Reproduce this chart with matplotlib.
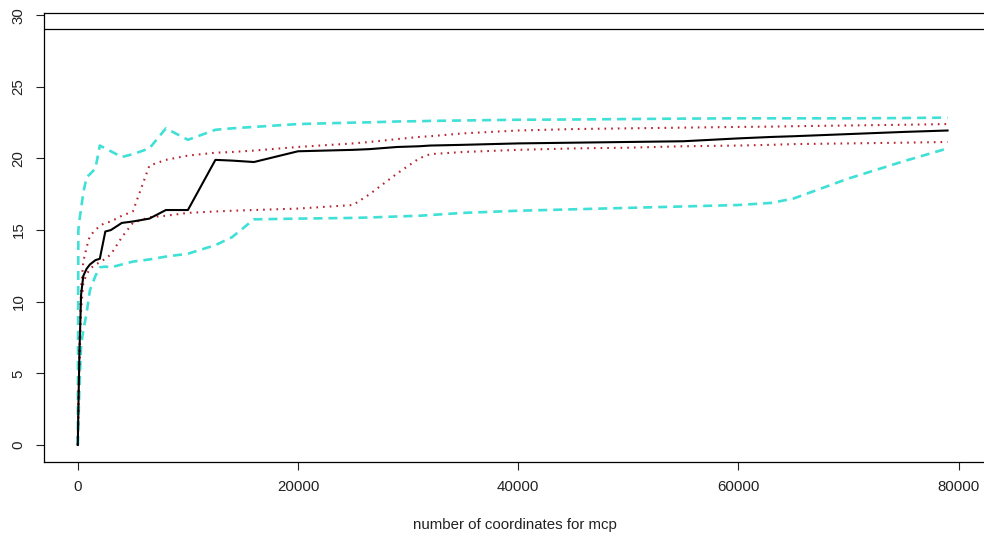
import matplotlib
matplotlib.use("Agg")
import matplotlib.pyplot as plt

plt.rcParams['font.family'] = ['Liberation Sans', 'DejaVu Sans']
plt.rcParams['lines.scale_dashes'] = False

# number of coordinates used for the MCP
n_coords = [0, 50, 150, 300, 500, 800, 1100, 1600, 2000, 2500, 3000, 4000, 5000,
            6500, 8000, 10000, 12500, 14000, 16000, 20000, 25000, 26500, 29000,
            31000, 32000, 35000, 40000, 45000, 50000, 55000, 60000, 63000, 65000,
            70000, 75000, 79000]

mean_area = [0, 2.5, 6.5, 10.5, 11.8, 12.3, 12.6, 12.9, 13.0, 14.9, 15.0, 15.5, 15.6,
             15.8, 16.4, 16.4, 19.9, 19.85, 19.75, 20.5, 20.6, 20.65, 20.8,
             20.85, 20.9, 20.95, 21.05, 21.1, 21.15, 21.2, 21.4, 21.5, 21.55,
             21.7, 21.85, 21.95]

upper_red = [0, 3, 7, 11, 12.8, 13.8, 14.6, 15.0, 15.3, 15.5, 15.6, 16.0, 16.3,
             19.5, 19.9, 20.2, 20.4, 20.45, 20.55, 20.8, 21.05, 21.15, 21.35,
             21.5, 21.55, 21.75, 21.95, 22.05, 22.1, 22.15, 22.2, 22.22, 22.25,
             22.3, 22.35, 22.4]

lower_red = [0, 2, 5.5, 9.5, 11.3, 11.9, 12.3, 12.6, 12.75, 13.0, 13.3, 14.5, 15.5,
             15.9, 16.0, 16.2, 16.3, 16.35, 16.4, 16.5, 16.75, 17.5, 18.95,
             20.0, 20.3, 20.45, 20.6, 20.7, 20.75, 20.85, 20.9, 20.95, 21.0,
             21.05, 21.1, 21.15]

upper_cyan = [0, 15.0, 15.7, 16.5, 17.6, 18.7, 18.9, 19.3, 20.9, 20.7, 20.5, 20.1, 20.3,
              20.7, 22.1, 21.3, 22.0, 22.1, 22.2, 22.4, 22.5, 22.52, 22.58,
              22.6, 22.62, 22.65, 22.7, 22.72, 22.75, 22.78, 22.8, 22.8, 22.8,
              22.8, 22.82, 22.85]

lower_cyan = [0, 1.5, 4.0, 7.0, 8.0, 9.2, 10.8, 11.8, 12.4, 12.45, 12.4, 12.6, 12.8,
              12.95, 13.15, 13.35, 13.95, 14.5, 15.75, 15.8, 15.85, 15.88, 15.95,
              16.0, 16.05, 16.2, 16.35, 16.45, 16.55, 16.65, 16.75, 16.9, 17.2,
              18.6, 19.8, 20.7]

ref_level = 29

x_ticks = [0, 20000, 40000, 60000, 80000]
y_ticks = [0, 5, 10, 15, 20, 25, 30]
x_label = "number of coordinates for mcp"

fig = plt.figure(figsize=(9.84, 5.38), dpi=100)
ax = fig.add_axes([44/984, 1 - 462.3/538, (986 - 44)/984, (462.3 - 13.3)/538])

cyan = '#3fe0d6'
red = '#b8232e'

ax.plot(n_coords, upper_cyan, color=cyan, lw=1.9, dashes=(6.5, 4.3))
ax.plot(n_coords, lower_cyan, color=cyan, lw=1.9, dashes=(6.5, 4.3))
ax.plot(n_coords, upper_red, color=red, lw=1.5, dashes=(1.2, 3.6), dash_capstyle='butt')
ax.plot(n_coords, lower_red, color=red, lw=1.5, dashes=(1.2, 3.6), dash_capstyle='butt')
ax.plot(n_coords, mean_area, color='black', lw=1.5)
ax.axhline(ref_level, color='black', lw=0.9)

ax.set_xlim(-3070, 82490)
ax.set_ylim(-1.207, 30.13)

for s in ax.spines.values():
    s.set_linewidth(0.9)

ax.set_xticks(x_ticks)
ax.set_xticklabels([str(v) for v in x_ticks], fontsize=10.8)
ax.set_yticks(y_ticks)
ax.set_yticklabels([str(v) for v in y_ticks], fontsize=10.8, rotation=90, va='center')
ax.tick_params(axis='both', length=5.8, width=0.8, color='#222222', labelcolor='#222222')
ax.tick_params(axis='x', pad=7)
ax.tick_params(axis='y', pad=7.5)
ax.set_xlabel(x_label, fontsize=10.8, color='#222222', labelpad=17.5)

fig.savefig("out.png", dpi=100)
